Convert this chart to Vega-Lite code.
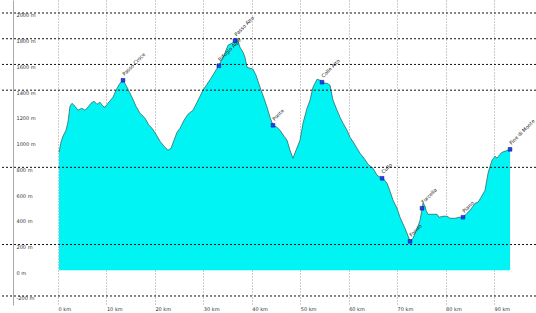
{
  "$schema": "https://vega.github.io/schema/vega-lite/v6.json",
  "width": 536,
  "height": 305,
  "autosize": {"type": "none"},
  "padding": {"left": 0, "top": 0, "right": 0, "bottom": 8},
  "config": {"view": {"stroke": null}, "font": "DejaVu Sans", "background": "white"},
  "datasets": {
    "profile": [
      {"km": 0.21, "elev": 917}, {"km": 0.62, "elev": 995}, {"km": 1.03, "elev": 1042}, {"km": 1.65, "elev": 1088},
      {"km": 2.06, "elev": 1151}, {"km": 2.48, "elev": 1275}, {"km": 2.89, "elev": 1298}, {"km": 3.51, "elev": 1275},
      {"km": 4.13, "elev": 1244}, {"km": 4.95, "elev": 1259}, {"km": 5.57, "elev": 1244}, {"km": 6.19, "elev": 1267},
      {"km": 6.81, "elev": 1298}, {"km": 7.43, "elev": 1314}, {"km": 8.05, "elev": 1290}, {"km": 8.67, "elev": 1306},
      {"km": 9.29, "elev": 1275}, {"km": 9.7, "elev": 1267}, {"km": 10.32, "elev": 1298}, {"km": 11.35, "elev": 1345},
      {"km": 12.18, "elev": 1415}, {"km": 12.8, "elev": 1454}, {"km": 13.42, "elev": 1477}, {"km": 14.04, "elev": 1438},
      {"km": 14.66, "elev": 1392}, {"km": 15.28, "elev": 1345}, {"km": 16.1, "elev": 1275}, {"km": 16.93, "elev": 1221},
      {"km": 17.96, "elev": 1182}, {"km": 18.79, "elev": 1127}, {"km": 19.41, "elev": 1104}, {"km": 20.23, "elev": 1057},
      {"km": 21.06, "elev": 1003}, {"km": 21.88, "elev": 964}, {"km": 22.71, "elev": 933}, {"km": 23.33, "elev": 948},
      {"km": 23.95, "elev": 1011}, {"km": 24.57, "elev": 1073}, {"km": 25.19, "elev": 1104}, {"km": 26.01, "elev": 1166},
      {"km": 26.84, "elev": 1213}, {"km": 27.87, "elev": 1244}, {"km": 28.7, "elev": 1306}, {"km": 29.32, "elev": 1353},
      {"km": 29.93, "elev": 1399}, {"km": 30.76, "elev": 1446}, {"km": 31.59, "elev": 1493}, {"km": 32.2, "elev": 1531},
      {"km": 32.82, "elev": 1570}, {"km": 33.44, "elev": 1609}, {"km": 34.27, "elev": 1671}, {"km": 35.09, "elev": 1749},
      {"km": 35.92, "elev": 1765}, {"km": 36.54, "elev": 1780}, {"km": 36.95, "elev": 1804}, {"km": 37.57, "elev": 1734},
      {"km": 38.19, "elev": 1695}, {"km": 38.6, "elev": 1656}, {"km": 39.02, "elev": 1578}, {"km": 39.64, "elev": 1570},
      {"km": 40.26, "elev": 1563}, {"km": 40.88, "elev": 1516}, {"km": 41.7, "elev": 1423}, {"km": 42.53, "elev": 1337},
      {"km": 43.15, "elev": 1267}, {"km": 43.77, "elev": 1189}, {"km": 44.38, "elev": 1127}, {"km": 45.21, "elev": 1112},
      {"km": 45.83, "elev": 1088}, {"km": 46.66, "elev": 1042}, {"km": 47.28, "elev": 1011}, {"km": 47.89, "elev": 933},
      {"km": 48.51, "elev": 871}, {"km": 49.13, "elev": 933}, {"km": 49.96, "elev": 1011}, {"km": 50.58, "elev": 1143},
      {"km": 51.4, "elev": 1259}, {"km": 52.02, "elev": 1322}, {"km": 52.64, "elev": 1423}, {"km": 53.47, "elev": 1485},
      {"km": 54.09, "elev": 1477}, {"km": 54.5, "elev": 1462}, {"km": 55.12, "elev": 1454}, {"km": 55.53, "elev": 1454},
      {"km": 56.15, "elev": 1438}, {"km": 56.77, "elev": 1322}, {"km": 57.6, "elev": 1244}, {"km": 58.22, "elev": 1189},
      {"km": 58.84, "elev": 1143}, {"km": 59.66, "elev": 1088}, {"km": 60.28, "elev": 1034}, {"km": 61.11, "elev": 987},
      {"km": 61.73, "elev": 948}, {"km": 62.34, "elev": 910}, {"km": 63.17, "elev": 871}, {"km": 64.0, "elev": 824},
      {"km": 65.03, "elev": 793}, {"km": 65.85, "elev": 739}, {"km": 66.47, "elev": 723}, {"km": 67.09, "elev": 715},
      {"km": 67.92, "elev": 676}, {"km": 68.54, "elev": 614}, {"km": 69.16, "elev": 544}, {"km": 69.98, "elev": 482},
      {"km": 70.6, "elev": 412}, {"km": 71.43, "elev": 342}, {"km": 72.05, "elev": 288}, {"km": 72.67, "elev": 225},
      {"km": 73.29, "elev": 249}, {"km": 73.7, "elev": 288}, {"km": 74.32, "elev": 342}, {"km": 74.73, "elev": 389},
      {"km": 75.15, "elev": 474}, {"km": 75.35, "elev": 521}, {"km": 75.76, "elev": 498}, {"km": 75.97, "elev": 466},
      {"km": 76.38, "elev": 435}, {"km": 77.21, "elev": 435}, {"km": 78.24, "elev": 435}, {"km": 78.65, "elev": 412},
      {"km": 79.48, "elev": 420}, {"km": 80.31, "elev": 420}, {"km": 80.93, "elev": 404}, {"km": 81.96, "elev": 404},
      {"km": 82.78, "elev": 412}, {"km": 83.61, "elev": 412}, {"km": 84.43, "elev": 443}, {"km": 85.05, "elev": 466},
      {"km": 85.67, "elev": 498}, {"km": 86.09, "elev": 521}, {"km": 86.71, "elev": 529}, {"km": 87.33, "elev": 567},
      {"km": 88.15, "elev": 622}, {"km": 88.77, "elev": 754}, {"km": 89.18, "elev": 808}, {"km": 89.6, "elev": 855},
      {"km": 90.21, "elev": 886}, {"km": 90.63, "elev": 871}, {"km": 91.25, "elev": 902}, {"km": 91.66, "elev": 917},
      {"km": 92.28, "elev": 925}, {"km": 92.9, "elev": 933}, {"km": 93.31, "elev": 933}
    ],
    "pois": [
      {"km": 13.42, "elev": 1477, "name": "Passo Croce"},
      {"km": 33.2, "elev": 1590, "name": "Rifugio Alpe"},
      {"km": 36.54, "elev": 1785, "name": "Passo Alto"},
      {"km": 44.38, "elev": 1127, "name": "Ponte"},
      {"km": 54.5, "elev": 1462, "name": "Colle Alto"},
      {"km": 66.9, "elev": 715, "name": "Cullo"},
      {"km": 72.67, "elev": 225, "name": "Fondo"},
      {"km": 75.15, "elev": 482, "name": "Forcella"},
      {"km": 83.61, "elev": 412, "name": "Piano"},
      {"km": 93.31, "elev": 940, "name": "Fine di Monte"}
    ],
    "grid": [
      {"elev": 2000}, {"elev": 1800}, {"elev": 1600}, {"elev": 1400}, {"elev": 800}, {"elev": 200}, {"elev": -200}
    ]
  },
  "encoding": {
    "x": {
      "field": "km", "type": "quantitative",
      "scale": {"domain": [-11.97, 98.67], "nice": false, "zero": false},
      "axis": {
        "title": null, "values": [0, 10, 20, 30, 40, 50, 60, 70, 80, 90],
        "labelExpr": "datum.value + ' km'", "grid": true, "gridColor": "#9a9a9a", "gridDash": [1, 2],
        "domain": false, "ticks": false, "labelAlign": "left", "labelBaseline": "top",
        "labelPadding": 1, "labelFontSize": 5, "labelColor": "#333"
      }
    },
    "y": {
      "field": "elev", "type": "quantitative",
      "scale": {"domain": [-270, 2101], "nice": false},
      "axis": {
        "title": null, "values": [-200, 0, 200, 400, 600, 800, 1000, 1200, 1400, 1600, 1800, 2000],
        "labelExpr": "datum.value + ' m'", "grid": false, "domain": true, "domainColor": "#aaaaaa",
        "offset": -13, "ticks": false, "labelAlign": "left", "labelBaseline": "top",
        "labelPadding": -3, "labelFontSize": 5, "labelColor": "#333"
      }
    }
  },
  "layer": [
    {
      "data": {"name": "profile"},
      "mark": {"type": "area", "color": "#00f4f4", "opacity": 1, "line": {"color": "#2e6b6b", "strokeWidth": 0.8}}
    },
    {
      "data": {"name": "grid"},
      "mark": {"type": "rule", "color": "#111", "strokeDash": [2, 2], "strokeWidth": 1},
      "encoding": {"x": null}
    },
    {
      "data": {"name": "pois"},
      "mark": {"type": "square", "filled": true, "color": "#1f3cff", "size": 14, "stroke": "#001a66", "strokeWidth": 0.5, "opacity": 1}
    },
    {
      "data": {"name": "pois"},
      "mark": {"type": "text", "angle": -45, "align": "left", "baseline": "middle", "dx": 4, "dy": -4, "fontSize": 5, "color": "#222"},
      "encoding": {"text": {"field": "name"}}
    }
  ]
}
